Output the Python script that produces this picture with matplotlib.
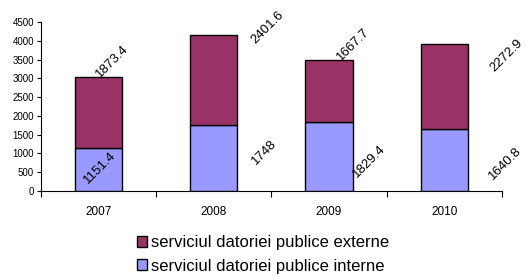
import matplotlib
matplotlib.use("Agg")
import matplotlib.pyplot as plt
from matplotlib.patches import Patch
import numpy as np

plt.rcParams['font.family'] = ['Liberation Sans', 'DejaVu Sans']

years = ["2007", "2008", "2009", "2010"]
interne = [1151.4, 1748, 1829.4, 1640.8]
externe = [1873.4, 2401.6, 1667.7, 2272.9]
label_int = ["1151.4", "1748", "1829.4", "1640.8"]
label_ext = ["1873.4", "2401.6", "1667.7", "2272.9"]
series_names = ["serviciul datoriei publice externe", "serviciul datoriei publice interne"]

col_ext = "#993366"
col_int = "#9999FF"

fig = plt.figure(figsize=(5.26, 2.78), dpi=100)
ax = fig.add_axes([0.078, 0.313, 0.876, 0.608])

x = np.arange(len(years))
w = 0.41
ax.bar(x, interne, w, color=col_int, edgecolor="black", linewidth=1.0, zorder=3)
ax.bar(x, externe, w, bottom=interne, color=col_ext, edgecolor="black", linewidth=1.0, zorder=3)

# data label placement (offsets in x units, y positions in data units)
ext_dx = [0.12, 0.47, 0.21, 0.54]
ext_y = [3435, 4340, 3890, 3595]
int_dx = [0.01, 0.44, 0.35, 0.53]
int_y = [612, 1040, 772, 719]
for i in range(len(years)):
    ax.text(x[i] + ext_dx[i], ext_y[i], label_ext[i], rotation=45, ha="center", va="center",
            fontsize=9.5, zorder=5, clip_on=False)
    ax.text(x[i] + int_dx[i], int_y[i], label_int[i], rotation=45, ha="center", va="center",
            fontsize=9.5, zorder=5, clip_on=False)

ax.set_xlim(-0.5, 3.5)
ax.set_ylim(0, 4500)
ax.set_yticks(np.arange(0, 4501, 500))
ax.tick_params(axis="y", labelsize=7, length=3, direction="out", width=0.8, pad=2)

ax.set_xticks(np.arange(-0.5, 3.6, 1.0))
ax.set_xticklabels([])
ax.set_xticks(x, minor=True)
ax.set_xticklabels(years, minor=True)
ax.tick_params(axis="x", which="major", length=4, direction="out", width=0.8)
ax.tick_params(axis="x", which="minor", length=0, labelsize=8.5, pad=11)

for s in ["top", "right"]:
    ax.spines[s].set_visible(False)
for s in ["left", "bottom"]:
    ax.spines[s].set_linewidth(0.8)

handles = [Patch(facecolor=col_ext, edgecolor="black", linewidth=1.0),
           Patch(facecolor=col_int, edgecolor="black", linewidth=1.0)]
fig.legend(handles, series_names, loc="center", bbox_to_anchor=(0.5, 0.085), frameon=False,
           fontsize=12, handlelength=0.6, handleheight=0.6, handletextpad=0.2, labelspacing=0.5)

fig.savefig("out.png", dpi=100)
